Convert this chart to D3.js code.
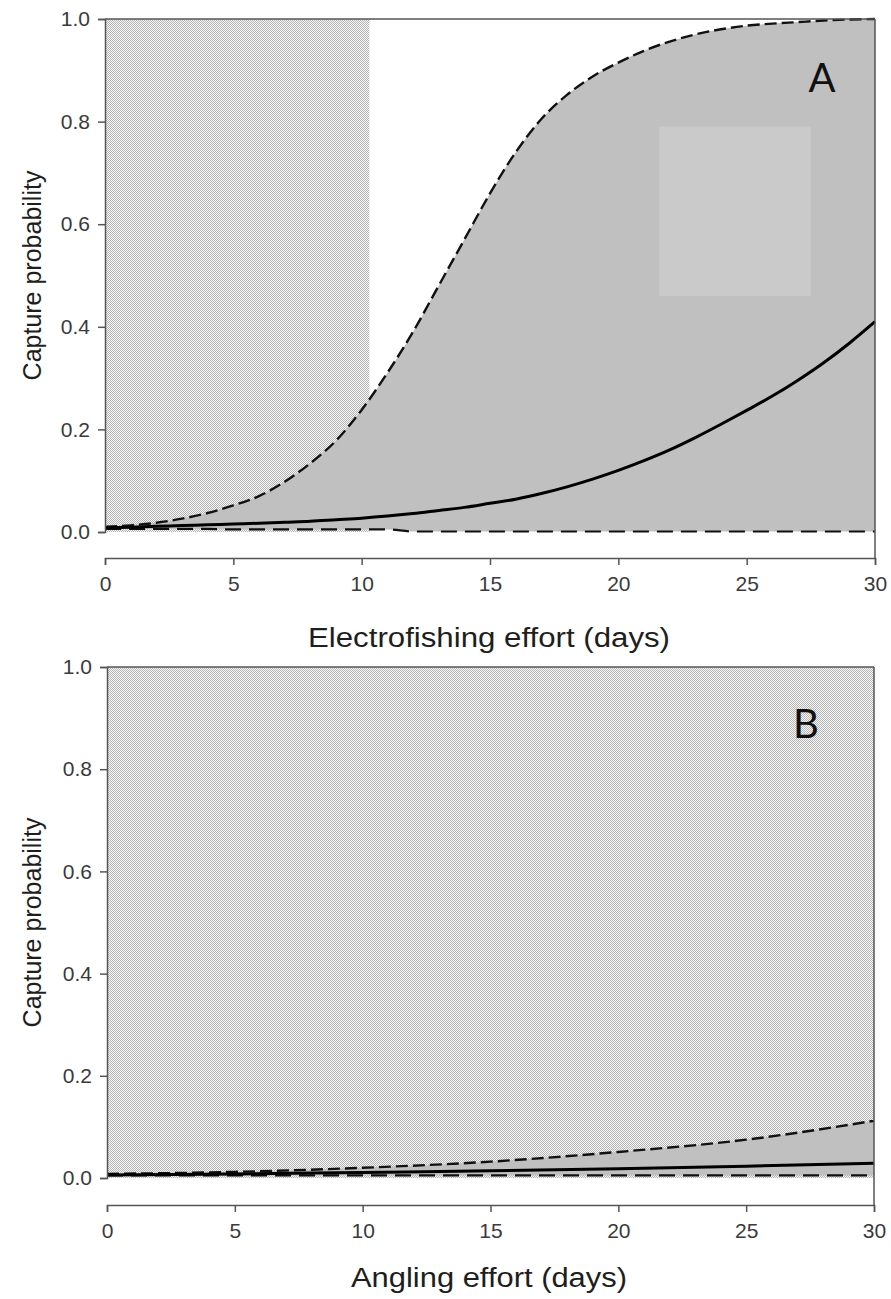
<!DOCTYPE html>
<html>
<head>
<meta charset="utf-8">
<script src="https://cdnjs.cloudflare.com/ajax/libs/d3/7.8.5/d3.min.js"></script>
<style>
    body { margin: 0; background: #fff; }
    svg { display: block; }
    .axis-title { font-family: "Liberation Sans", Arial, sans-serif; font-size: 25px; fill: #1e1e1e; }
    .panel-label { font-family: "Lato", "Open Sans", sans-serif; font-size: 40px; fill: #111; }
</style>
</head>
<body>
<div id="chart"></div>
<script>
// Panel A - electrofishing
var effortA = [0, 1, 2, 3, 4, 5, 6, 7, 8, 9, 10, 11, 12, 13, 14, 15, 16, 17, 18, 19, 20, 21, 22, 23, 24, 25, 26, 27, 28, 29, 30];
var upperA = [0.010, 0.013, 0.018, 0.026, 0.037, 0.052, 0.070, 0.098, 0.134, 0.178, 0.238, 0.31, 0.39, 0.48, 0.57, 0.66, 0.74, 0.805, 0.852, 0.888, 0.915, 0.938, 0.956, 0.970, 0.980, 0.987, 0.991, 0.994, 0.997, 0.999, 1.0];
var meanA = [0.008, 0.0095, 0.011, 0.0125, 0.014, 0.0155, 0.017, 0.019, 0.021, 0.024, 0.027, 0.031, 0.036, 0.042, 0.048, 0.056, 0.064, 0.075, 0.088, 0.103, 0.120, 0.139, 0.160, 0.184, 0.210, 0.237, 0.265, 0.296, 0.330, 0.368, 0.410];
var lowerA = [0.006, 0.006, 0.006, 0.006, 0.006, 0.005, 0.005, 0.005, 0.005, 0.005, 0.005, 0.005, 0.001, 0.001, 0.001, 0.001, 0.001, 0.001, 0.001, 0.001, 0.001, 0.001, 0.001, 0.001, 0.001, 0.001, 0.001, 0.001, 0.001, 0.001, 0.001];
var stippleA = [0, 10.3];          // days covered by the stippled block
var patchA = [21.6, 27.5, 0.46, 0.79]; // lighter square inside band: x0, x1, y0, y1

// Panel B - angling
var effortB = [0, 5, 10, 15, 20, 25, 30];
var upperB = [0.008, 0.012, 0.020, 0.032, 0.051, 0.075, 0.112];
var meanB = [0.006, 0.008, 0.011, 0.014, 0.018, 0.023, 0.029];
var lowerB = [0.005, 0.005, 0.005, 0.005, 0.005, 0.005, 0.005];
var stippleB = [0, 30];

var xTicks = [0, 5, 10, 15, 20, 25, 30];
var yTicks = [0.0, 0.2, 0.4, 0.6, 0.8, 1.0];

var width = 891, height = 1299;

var svg = d3.select("#chart")
    .append("svg")
    .attr("width", width)
    .attr("height", height);

// stipple pattern
var pat = svg.append("defs").append("pattern")
    .attr("id", "stipple")
    .attr("patternUnits", "userSpaceOnUse")
    .attr("width", 2)
    .attr("height", 2);
pat.append("rect").attr("width", 2).attr("height", 2).attr("fill", "#f8f8f8");
pat.append("rect").attr("width", 1).attr("height", 1).attr("fill", "#b4b4b4").attr("shape-rendering", "crispEdges");
pat.append("rect").attr("x", 1).attr("y", 1).attr("width", 1).attr("height", 1).attr("fill", "#b4b4b4").attr("shape-rendering", "crispEdges");

function toRows(xs, lo, mid, hi) {
    return xs.map((x, i) => ({ x: x, lo: lo[i], mid: mid[i], hi: hi[i] }));
}

function drawPanel(cfg) {
    var x = d3.scaleLinear().domain([0, 30]).range(cfg.xRange);
    var y = d3.scaleLinear().domain([0, 1]).range(cfg.yRange);
    var g = svg.append("g");
    var rows = toRows(cfg.effort, cfg.lower, cfg.mean, cfg.upper);

    // stippled block
    g.append("rect")
        .attr("x", x(cfg.stipple[0]))
        .attr("y", y(1))
        .attr("width", x(cfg.stipple[1]) - x(cfg.stipple[0]))
        .attr("height", y(0) - y(1))
        .attr("fill", "url(#stipple)");

    // confidence band
    var band = d3.area()
        .curve(d3.curveMonotoneX)
        .x(d => x(d.x))
        .y0(d => y(d.lo))
        .y1(d => y(d.hi));
    g.append("path")
        .datum(rows)
        .attr("d", band)
        .attr("fill", "#c0c0c0");

    if (cfg.patch) {
        g.append("rect")
            .attr("x", x(cfg.patch[0]))
            .attr("y", y(cfg.patch[3]))
            .attr("width", x(cfg.patch[1]) - x(cfg.patch[0]))
            .attr("height", y(cfg.patch[2]) - y(cfg.patch[3]))
            .attr("fill", "#cacaca");
    }

    var line = key => d3.line()
        .curve(d3.curveMonotoneX)
        .x(d => x(d.x))
        .y(d => y(d[key]));

    g.append("path").datum(rows).attr("d", line("lo"))
        .attr("fill", "none").attr("stroke", "#111").attr("stroke-width", 2.2)
        .attr("stroke-dasharray", "16,8");
    g.append("path").datum(rows).attr("d", line("hi"))
        .attr("fill", "none").attr("stroke", "#111").attr("stroke-width", 2.4)
        .attr("stroke-dasharray", "12,5");
    g.append("path").datum(rows).attr("d", line("mid"))
        .attr("fill", "none").attr("stroke", "#000").attr("stroke-width", 3);

    // frame: top + right border, left y axis, offset x axis
    var axisColor = "#555";
    g.append("line")
        .attr("x1", x(0)).attr("x2", x(30))
        .attr("y1", y(1)).attr("y2", y(1))
        .attr("stroke", axisColor).attr("stroke-width", 1.5);
    g.append("line")
        .attr("x1", x(30)).attr("x2", x(30))
        .attr("y1", y(1)).attr("y2", cfg.xAxisY)
        .attr("stroke", axisColor).attr("stroke-width", 1.5);

    var yAxis = g.append("g")
        .attr("transform", "translate(" + x(0) + ",0)")
        .call(d3.axisLeft(y).tickValues(yTicks).tickFormat(d3.format(".1f")).tickSize(7).tickPadding(8));
    var xAxis = g.append("g")
        .attr("transform", "translate(0," + cfg.xAxisY + ")")
        .call(d3.axisBottom(x).tickValues(xTicks).tickSize(7).tickPadding(11));

    [yAxis, xAxis].forEach(a => {
        a.attr("font-size", null).attr("font-family", null);
        a.select(".domain").attr("stroke", axisColor).attr("stroke-width", 1.5);
        a.selectAll(".tick line").attr("stroke", axisColor).attr("stroke-width", 1.5);
        a.selectAll(".tick text")
            .attr("fill", "#3a3a3a")
            .style("font-family", "'Liberation Sans', Arial, sans-serif")
            .style("font-size", "21px");
    });

    g.append("text")
        .attr("class", "axis-title")
        .attr("text-anchor", "middle")
        .attr("transform", "translate(41," + (y(0.5)) + ") rotate(-90)")
        .text("Capture probability");

    g.append("text")
        .attr("class", "axis-title")
        .attr("text-anchor", "middle")
        .attr("x", cfg.titleX)
        .attr("y", cfg.titleY)
        .attr("textLength", cfg.titleLen)
        .attr("lengthAdjust", "spacingAndGlyphs")
        .style("font-size", "27px")
        .text(cfg.xTitle);

    g.append("text")
        .attr("class", "panel-label")
        .attr("text-anchor", "middle")
        .attr("x", cfg.labelPos[0])
        .attr("y", cfg.labelPos[1])
        .text(cfg.label);
}

drawPanel({
    effort: effortA, upper: upperA, mean: meanA, lower: lowerA,
    stipple: stippleA, patch: patchA,
    xRange: [105, 875], yRange: [532, 19], xAxisY: 558,
    xTitle: "Electrofishing effort (days)", titleX: 489, titleY: 647, titleLen: 362,
    label: "A", labelPos: [822, 92]
});

drawPanel({
    effort: effortB, upper: upperB, mean: meanB, lower: lowerB,
    stipple: stippleB, patch: null,
    xRange: [107, 874], yRange: [1178, 667], xAxisY: 1205,
    xTitle: "Angling effort (days)", titleX: 489, titleY: 1287, titleLen: 276,
    label: "B", labelPos: [806, 738]
});
</script>
</body>
</html>
